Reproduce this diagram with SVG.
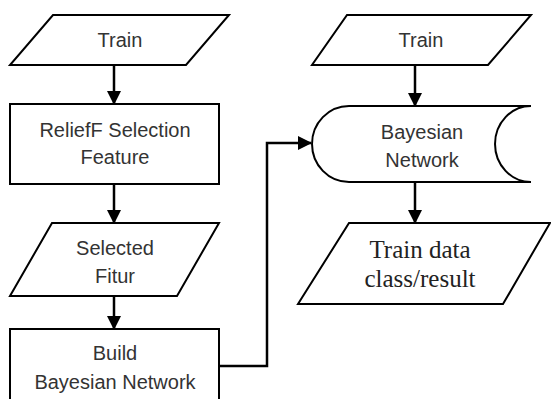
<svg xmlns="http://www.w3.org/2000/svg" width="551" height="399" viewBox="0 0 551 399">
<defs>
<style>
.s{fill:#fff;stroke:#000;stroke-width:2}
.t{font-family:"Liberation Sans",Arial,sans-serif;font-size:20px;fill:#333;text-anchor:middle}
.r{font-family:"Liberation Serif","Times New Roman",serif;font-size:25px;fill:#222;text-anchor:middle}
.c{fill:none;stroke:#000;stroke-width:2.5}
</style>
<marker id="a" markerWidth="14" markerHeight="16" refX="13" refY="7" orient="auto" markerUnits="userSpaceOnUse" viewBox="0 0 14 14">
<path d="M0,0 L14,7 L0,14 Z" fill="#000"/>
</marker>
</defs>
<g id="connectors">
<line class="c" x1="114" y1="65" x2="114" y2="104" marker-end="url(#a)"/>
<line class="c" x1="114" y1="184" x2="114" y2="223" marker-end="url(#a)"/>
<line class="c" x1="114" y1="296" x2="114" y2="329" marker-end="url(#a)"/>
<polyline class="c" points="219,366 267,366 267,143 311,143" marker-end="url(#a)"/>
<line class="c" x1="415" y1="65" x2="415" y2="106" marker-end="url(#a)"/>
<line class="c" x1="415" y1="182" x2="415" y2="223" marker-end="url(#a)"/>
</g>
<g id="train1">
<polygon class="s" points="53,15 229,15 186,65 10,65"/>
<text class="t" x="120" y="47">Train</text>
</g>
<g id="relieff">
<rect class="s" x="10" y="104" width="209" height="80"/>
<text class="t" x="115" y="137">ReliefF Selection</text>
<text class="t" x="115" y="164">Feature</text>
</g>
<g id="selected">
<polygon class="s" points="52,223 219,223 177,296 10,296"/>
<text class="t" x="115" y="255">Selected</text>
<text class="t" x="115" y="283">Fitur</text>
</g>
<g id="build">
<rect class="s" x="10" y="329" width="209" height="80"/>
<text class="t" x="115" y="360">Build</text>
<text class="t" x="115" y="389">Bayesian Network</text>
</g>
<g id="train2">
<polygon class="s" points="347,15 531,15 488,65 312,65"/>
<text class="t" x="421" y="47">Train</text>
</g>
<g id="bayes">
<path class="s" d="M349,106 L531,106 A36,38 0 0 0 531,182 L349,182 A37,38 0 0 1 349,106 Z"/>
<text class="t" x="422" y="139">Bayesian</text>
<text class="t" x="422" y="167">Network</text>
</g>
<g id="result">
<polygon class="s" points="349,223 550,223 503,304 298,304"/>
<text class="r" x="420" y="258">Train data</text>
<text class="r" x="420" y="287">class/result</text>
</g>
</svg>
